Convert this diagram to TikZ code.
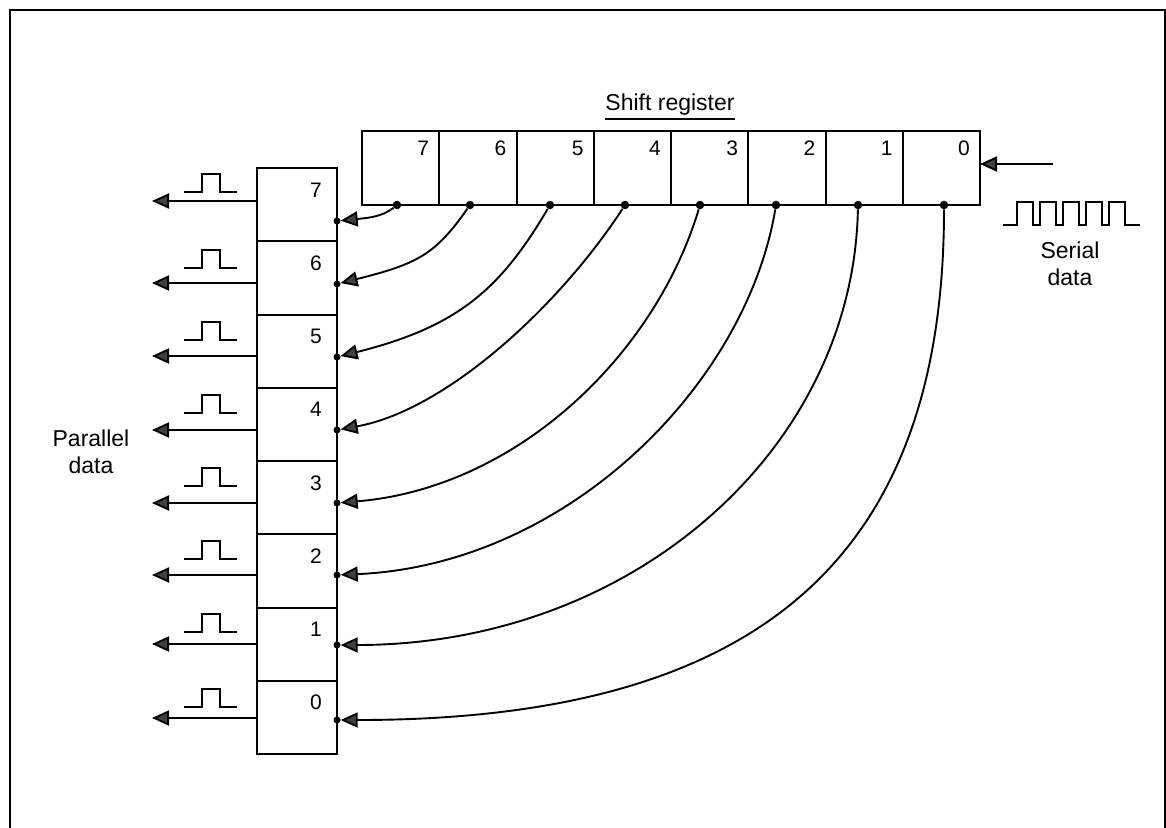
\documentclass[tikz,border=0pt]{standalone}
\usepackage{fontspec}
\setmainfont{Liberation Sans}
\usetikzlibrary{arrows.meta}
\begin{document}
\begin{tikzpicture}[x=1pt,y=-1pt,
  reg/.style={draw, line width=2pt, inner sep=0pt, outer sep=0pt, minimum width=77.25pt, minimum height=74pt},
  vreg/.style={draw, line width=2pt, inner sep=0pt, outer sep=0pt, minimum width=80pt, minimum height=73.25pt},
  digit/.style={font=\fontsize{21}{21}\selectfont, inner sep=0pt},
  lbl/.style={font=\fontsize{23}{27}\selectfont, align=center, inner sep=0pt},
  wire/.style={line width=1.9pt},
  tri/.style={-{Triangle[length=17pt,width=15pt,fill=black!75]}},
  sport/.style={circle, fill=black, inner sep=0pt, minimum size=8.5pt},
  vport/.style={circle, fill=black, inner sep=0pt, minimum size=7pt},
  pulse/.style={line width=2pt, line join=miter}
]
\useasboundingbox (0,0) rectangle (1166,827);
% frame
\draw[line width=2.8pt] (10,840) -- (10,10) -- (1165,10) -- (1165,840);

% shift register
\foreach \i in {0,...,7}{
  \node[reg] (r\i) at ({362+(7-\i)*77.25+38.625},168) {};
  \node[digit, anchor=base east] (rd\i) at ({362+(8-\i)*77.25-10},155) {\i};
}
% parallel register
\foreach \i in {0,...,7}{
  \node[vreg] (v\i) at (297,{168+(7-\i)*73.25+36.625}) {};
  \node[digit, anchor=base east] (vd\i) at (322,{168+(7-\i)*73.25+29}) {\i};
}

% labels
\node[lbl, anchor=base] (title) at (670,110) {Shift register};
\draw[line width=2pt] ([yshift=-9pt]title.base west) -- ([yshift=-9pt]title.base east);
\node[lbl] (par) at (91,452) {Parallel\\data};
\node[lbl] (ser) at (1070,264) {Serial\\data};

% ports
\foreach \i/\x in {0/944,1/858,2/776,3/700,4/625,5/550,6/470,7/397}
  \node[sport] (sd\i) at (\x,205) {};
\foreach \i/\y in {0/720,1/645,2/575,3/503,4/430,5/357,6/284,7/221}
  \node[vport] (pd\i) at (337,\y) {};

% curved connectors
\draw[wire,tri] (sd0) .. controls +(0,355) and +(420,0) .. (pd0);
\draw[wire,tri] (sd1) .. controls +(-5,245) and +(295,0) .. (pd1);
\draw[wire,tri] (sd2) .. controls +(-30,180) and +(230,-10) .. (pd2);
\draw[wire,tri] (sd3) .. controls +(-45,150) and +(180,-15) .. (pd3);
\draw[wire,tri] (sd4) .. controls +(-65,100) and +(110,-20) .. (pd4);
\draw[wire,tri] (sd5) .. controls +(-50,85) and +(120,-30) .. (pd5);
\draw[wire,tri] (sd6) .. controls +(-35,50) and +(80,-20) .. (pd6);
\draw[wire,tri] (sd7) .. controls +(-15,12) and +(30,-3) .. (pd7);

% parallel outputs with pulses
\foreach \i/\y/\b in {0/718/707,1/644/632,2/575/559,3/503/486,4/430/413,5/356/340,6/283/268,7/201/192}{
  \coordinate (o\i) at (152,\y);
  \draw[wire,tri] (v\i.west |- o\i) -- (o\i);
  \draw[pulse] (184,\b) -- (202,\b) -- (202,\b-18) -- (220,\b-18) -- (220,\b) -- (237,\b);
}

% serial input
\coordinate (sin) at (1053,164);
\draw[wire,tri] (sin) -- (r0.east |- sin);
\draw[pulse] (1003,225) -- (1017,225)
  -- (1017,202) -- (1033,202) -- (1033,225) -- (1040,225)
  -- (1040,202) -- (1056,202) -- (1056,225) -- (1063,225)
  -- (1063,202) -- (1079,202) -- (1079,225) -- (1086,225)
  -- (1086,202) -- (1102,202) -- (1102,225) -- (1109,225)
  -- (1109,202) -- (1125,202) -- (1125,225) -- (1140,225);
\end{tikzpicture}
\end{document}
